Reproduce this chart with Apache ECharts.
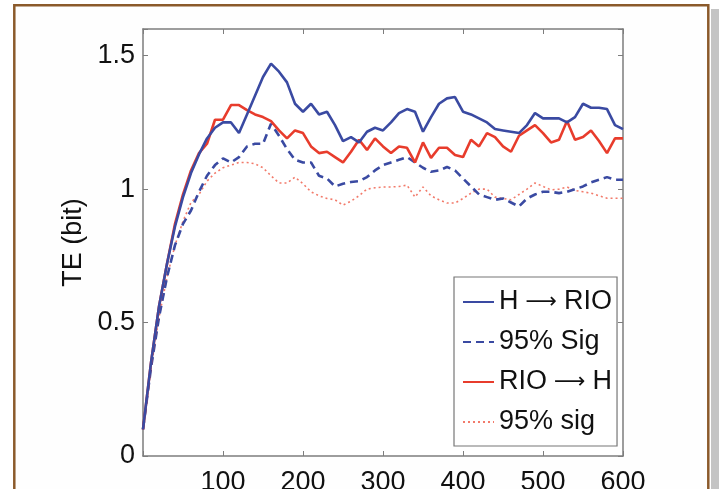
<!DOCTYPE html>
<html><head><meta charset="utf-8">
<script src="https://cdn.jsdelivr.net/npm/echarts@6/dist/echarts.min.js"></script>
<style>html,body{margin:0;padding:0;background:#fff;}#c{width:719px;height:489px;}</style>
</head><body><div id="c"></div>
<script>
// x positions (samples)
const xValues = [0,10,20,30,40,50,60,70,80,90,100,110,120,130,140,150,160,170,180,190,200,210,220,230,240,250,260,270,280,290,300,310,320,330,340,350,360,370,380,390,400,410,420,430,440,450,460,470,480,490,500,510,520,530,540,550,560,570,580,590,600];
// H -> RIO
const hToRio = [0.10,0.35,0.56,0.72,0.86,0.97,1.06,1.13,1.19,1.23,1.25,1.25,1.21,1.28,1.35,1.42,1.47,1.44,1.40,1.32,1.29,1.32,1.28,1.29,1.24,1.18,1.195,1.175,1.215,1.23,1.22,1.25,1.285,1.30,1.29,1.215,1.27,1.32,1.34,1.345,1.29,1.28,1.265,1.25,1.225,1.22,1.215,1.21,1.24,1.285,1.265,1.265,1.265,1.25,1.27,1.32,1.305,1.305,1.30,1.24,1.225];
// 95% Sig (blue dashed)
const sigBlue = [0.10,0.33,0.52,0.67,0.79,0.87,0.92,0.99,1.05,1.09,1.115,1.10,1.12,1.16,1.17,1.17,1.245,1.20,1.15,1.11,1.10,1.10,1.05,1.04,1.01,1.02,1.027,1.03,1.045,1.07,1.09,1.10,1.11,1.12,1.10,1.08,1.065,1.07,1.083,1.07,1.04,1.01,0.98,0.97,0.96,0.965,0.95,0.935,0.965,0.98,0.99,0.99,0.985,0.99,1.00,1.01,1.025,1.035,1.045,1.035,1.035];
// RIO -> H
const rioToH = [0.10,0.35,0.56,0.72,0.87,0.98,1.07,1.135,1.17,1.26,1.26,1.315,1.315,1.296,1.28,1.27,1.255,1.22,1.19,1.22,1.21,1.16,1.135,1.14,1.12,1.10,1.14,1.185,1.147,1.19,1.16,1.135,1.16,1.155,1.10,1.175,1.117,1.155,1.155,1.128,1.12,1.185,1.16,1.21,1.195,1.16,1.14,1.20,1.22,1.24,1.21,1.175,1.185,1.255,1.185,1.195,1.22,1.18,1.135,1.19,1.19];
// 95% sig (red dotted)
const sigRed = [0.10,0.33,0.52,0.67,0.79,0.88,0.95,0.98,1.03,1.06,1.08,1.09,1.10,1.10,1.095,1.08,1.05,1.023,1.023,1.045,1.02,0.99,0.975,0.965,0.96,0.94,0.955,0.975,1.00,1.005,1.008,1.008,1.01,1.015,0.97,1.008,0.975,0.96,0.948,0.948,0.965,0.985,1.00,1.00,0.97,0.965,0.96,0.98,1.00,1.023,1.01,0.997,1.00,1.008,0.995,0.99,0.985,0.975,0.966,0.966,0.966];
const seriesNames = ['H \u2192 RIO', '95% Sig', 'RIO \u2192 H', '95% sig'];
const xTicks = [100,200,300,400,500,600];
const yTicks = [0,0.5,1,1.5];

const pairs = ys => xValues.map((x, i) => [x, ys[i]]);
const FONT = 'Liberation Sans';
const axisColor = '#7d7d7d';
const BLUE = '#3a4aa2', RED = '#e83c2c', RED2 = '#f27a6a';

const chart = echarts.init(document.getElementById('c'), null, {renderer: 'canvas'});
const baseX = {
  type: 'value', min: 0, max: 600, interval: 100,
  axisLine: {show: true, onZero: false, lineStyle: {color: axisColor, width: 1.5}},
  axisTick: {show: true, inside: true, length: 5, lineStyle: {color: axisColor, width: 1}},
  splitLine: {show: false}
};
const baseY = {
  type: 'value', min: 0, max: 1.6, interval: 0.5,
  axisLine: {show: true, onZero: false, lineStyle: {color: axisColor, width: 1.5}},
  axisTick: {show: true, inside: true, length: 5, lineStyle: {color: axisColor, width: 1}},
  splitLine: {show: false}
};
chart.setOption({
  animation: false,
  backgroundColor: '#ffffff',
  textStyle: {fontFamily: FONT},
  graphic: [
    {type: 'rect', z: -10, shape: {x: 711, y: 9, width: 8, height: 500}, style: {fill: '#c4c4c4'}},
    {type: 'rect', z: -9, shape: {x: 14.3, y: 5.3, width: 694, height: 600}, style: {fill: '#fefefe', stroke: '#8b5a2b', lineWidth: 2.5}}
  ],
  grid: {left: 143, top: 29, right: 96, bottom: 33, containLabel: false, outerBoundsMode: 'none', show: true, backgroundColor: '#ffffff', borderWidth: 0},
  legend: {
    orient: 'vertical', left: 454, top: 277,
    data: seriesNames,
    formatter: n => n.replace(' \u2192 ', '{a| \u27F6 }'),
    backgroundColor: '#ffffff', borderColor: '#777777', borderWidth: 1.2, borderRadius: 0,
    padding: [10, 5, 9, 8], itemGap: 10, itemWidth: 31, itemHeight: 14,
    itemStyle: {opacity: 0, borderWidth: 0},
    textStyle: {fontFamily: FONT, fontSize: 27, lineHeight: 30, color: '#111',
      rich: {a: {fontFamily: 'DejaVu Sans', fontSize: 22, lineHeight: 30, color: '#111'}}}
  },
  xAxis: [
    Object.assign({}, baseX, {position: 'bottom',
      axisLabel: {show: true, margin: 13, fontFamily: FONT, fontSize: 27, color: '#111',
        formatter: v => xTicks.indexOf(v) >= 0 ? String(v) : ''}}),
    Object.assign({}, baseX, {position: 'top', axisLabel: {show: false}})
  ],
  yAxis: [
    Object.assign({}, baseY, {position: 'left', name: 'TE (bit)', nameLocation: 'middle', nameGap: 47,
      nameTextStyle: {fontFamily: FONT, fontSize: 27, color: '#111'},
      axisLabel: {show: true, margin: 8, fontFamily: FONT, fontSize: 27, color: '#111',
        formatter: v => yTicks.indexOf(+v.toFixed(2)) >= 0 ? String(+v.toFixed(2)) : ''}}),
    Object.assign({}, baseY, {position: 'right', axisLabel: {show: false}})
  ],
  series: [
    {name: seriesNames[0], type: 'line', data: pairs(hToRio), symbol: 'none', lineStyle: {color: BLUE, width: 2.6}, itemStyle: {color: BLUE}, z: 4},
    {name: seriesNames[1], type: 'line', data: pairs(sigBlue), symbol: 'none', lineStyle: {color: BLUE, width: 2.6, type: [8, 5]}, itemStyle: {color: BLUE}, z: 3},
    {name: seriesNames[2], type: 'line', data: pairs(rioToH), symbol: 'none', lineStyle: {color: RED, width: 2.6}, itemStyle: {color: RED}, z: 3},
    {name: seriesNames[3], type: 'line', data: pairs(sigRed), symbol: 'none', lineStyle: {color: RED2, width: 1.6, type: [2, 3]}, itemStyle: {color: RED2}, z: 2}
  ]
});
</script>
</body></html>
